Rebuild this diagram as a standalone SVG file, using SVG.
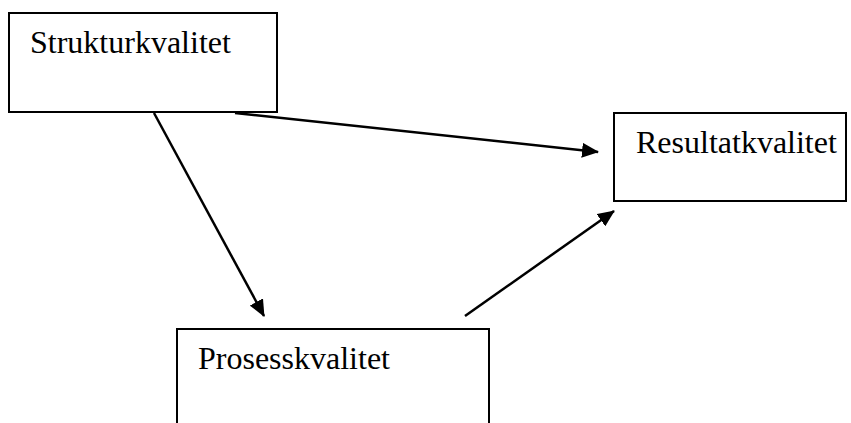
<svg xmlns="http://www.w3.org/2000/svg" width="851" height="423" viewBox="0 0 851 423">
<style>
.box{fill:#fff;stroke:#000;stroke-width:2}
.lbl{font-size:32px;fill:#000}
.conn{stroke:#000;stroke-width:2.5;fill:none;marker-end:url(#ah)}
</style>
<defs>
<marker id="ah" markerUnits="userSpaceOnUse" markerWidth="17" markerHeight="15" refX="16" refY="7.5" orient="auto">
<path d="M0,0 L17,7.5 L0,15 z" fill="#000"/>
</marker>
</defs>
<rect width="851" height="423" fill="#fff"/>
<g id="strukturkvalitet">
<rect class="box" x="9" y="13" width="268" height="99"/>
<text class="lbl" font-family="'Liberation Serif', 'Times New Roman', serif" x="30" y="53">Strukturkvalitet</text>
</g>
<g id="resultatkvalitet">
<rect class="box" x="614" y="113" width="232" height="88"/>
<text class="lbl" font-family="'Liberation Serif', 'Times New Roman', serif" x="636" y="153">Resultatkvalitet</text>
</g>
<g id="prosesskvalitet">
<rect class="box" x="177" y="329" width="312" height="120"/>
<text class="lbl" font-family="'Liberation Serif', 'Times New Roman', serif" x="198" y="369">Prosesskvalitet</text>
</g>
<g id="connectors">
<line class="conn" x1="235" y1="113" x2="598" y2="152"/>
<line class="conn" x1="154" y1="113" x2="264" y2="316"/>
<line class="conn" x1="465" y1="316" x2="614" y2="211"/>
</g>
</svg>
